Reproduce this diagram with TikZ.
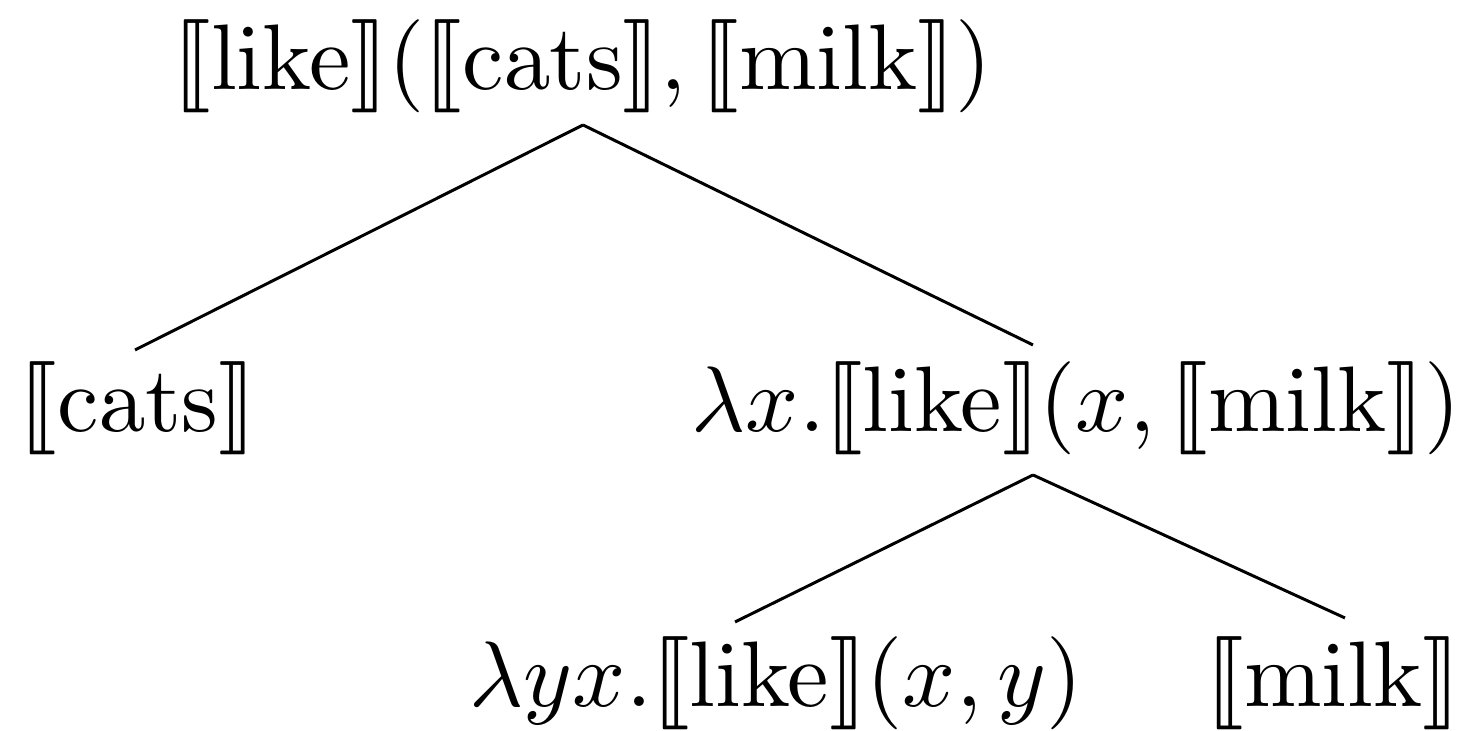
\documentclass[tikz,border=0pt,11pt]{standalone}
\usepackage{stmaryrd}
\newcommand{\sem}[1]{\llbracket\mathrm{#1}\rrbracket}
\begin{document}
\begin{tikzpicture}[x=0.1176pt,y=-0.1176pt,
  lbl/.style={inner sep=0pt,anchor=base west},
  edge/.style={line width=0.35pt}]
\useasboundingbox (0,0) rectangle (1473,731);
\node[lbl] (top) at (172,90) {$\sem{like}(\sem{cats},\sem{milk})$};
\node[lbl] (cats) at (18,432) {$\sem{cats}$};
\node[lbl] (mid) at (690,432) {$\lambda x.\sem{like}(x,\sem{milk})$};
\node[lbl] (bl) at (468,707) {$\lambda yx.\sem{like}(x,y)$};
\node[lbl] (milk) at (1205,707) {$\sem{milk}$};
\coordinate (t0) at (583,125);
\coordinate (c0) at (135,350);
\coordinate (m0) at (1033,345);
\coordinate (m1) at (1033,475);
\coordinate (b0) at (735,622);
\coordinate (k0) at (1345,618);
\draw[edge] (t0) -- (c0);
\draw[edge] (t0) -- (m0);
\draw[edge] (m1) -- (b0);
\draw[edge] (m1) -- (k0);
\end{tikzpicture}
\end{document}
